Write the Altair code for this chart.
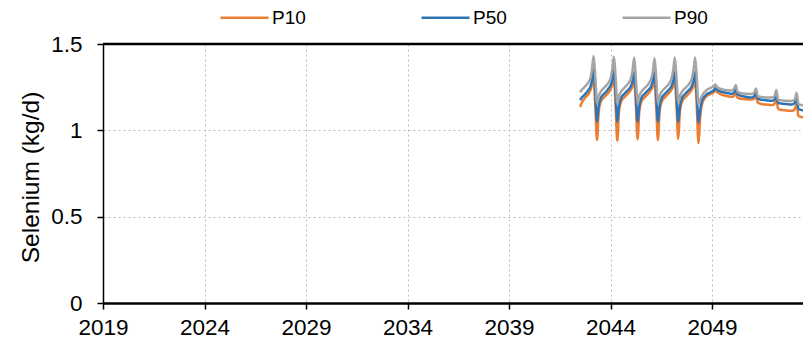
import altair as alt
import pandas as pd

# Monthly series starting July 2042 (fractional year 2042.5)
start_year = 2042.5

p90 = [
    1.22, 1.235, 1.245, 1.255, 1.265, 1.28, 1.30, 1.35,
    1.43,
    1.31, 1.16, 1.20, 1.22, 1.235, 1.245, 1.255, 1.265, 1.28, 1.30, 1.35, 1.426,
    1.31, 1.155, 1.20, 1.22, 1.235, 1.245, 1.255, 1.265, 1.28, 1.30, 1.345, 1.422,
    1.30, 1.155, 1.20, 1.22, 1.233, 1.243, 1.253, 1.263, 1.278, 1.298, 1.34, 1.417,
    1.30, 1.155, 1.20, 1.22, 1.233, 1.243, 1.253, 1.263, 1.278, 1.298, 1.345, 1.422,
    1.30, 1.155, 1.20, 1.22, 1.233, 1.243, 1.253, 1.263, 1.278, 1.298, 1.345, 1.422,
    1.30, 1.15,
    1.18, 1.20, 1.215, 1.225, 1.235, 1.24, 1.245, 1.25, 1.255, 1.265,
    1.25, 1.245, 1.24, 1.238, 1.235, 1.233, 1.232, 1.231, 1.23, 1.232, 1.24, 1.262,
    1.225, 1.218, 1.216, 1.214, 1.213, 1.212, 1.211, 1.21, 1.21, 1.212, 1.22, 1.243,
    1.20, 1.195, 1.193, 1.192, 1.191, 1.19, 1.19, 1.19, 1.19, 1.192, 1.20, 1.233,
    1.18, 1.175, 1.174, 1.173, 1.172, 1.171, 1.171, 1.17, 1.17, 1.172, 1.18, 1.218,
    1.155, 1.148, 1.146, 1.145, 1.144, 1.143, 1.142, 1.14,
]

p50 = [
    1.175, 1.19, 1.20, 1.21, 1.22, 1.235, 1.25, 1.29,
    1.35,
    1.21, 1.05, 1.14, 1.18, 1.20, 1.21, 1.22, 1.23, 1.245, 1.26, 1.29, 1.35,
    1.21, 1.05, 1.14, 1.18, 1.20, 1.21, 1.22, 1.23, 1.24, 1.255, 1.285, 1.34,
    1.205, 1.05, 1.14, 1.18, 1.20, 1.21, 1.22, 1.23, 1.24, 1.255, 1.285, 1.335,
    1.205, 1.05, 1.14, 1.18, 1.20, 1.21, 1.22, 1.23, 1.24, 1.255, 1.285, 1.34,
    1.205, 1.05, 1.14, 1.18, 1.20, 1.21, 1.22, 1.23, 1.24, 1.255, 1.285, 1.34,
    1.205, 1.045,
    1.12, 1.17, 1.19, 1.20, 1.21, 1.215, 1.22, 1.225, 1.23, 1.245,
    1.235, 1.228, 1.225, 1.222, 1.22, 1.218, 1.216, 1.214, 1.212, 1.212, 1.218, 1.243,
    1.21, 1.204, 1.20, 1.198, 1.196, 1.194, 1.192, 1.19, 1.19, 1.192, 1.198, 1.218,
    1.185, 1.18, 1.178, 1.176, 1.175, 1.174, 1.173, 1.172, 1.171, 1.172, 1.18, 1.204,
    1.16, 1.156, 1.155, 1.154, 1.153, 1.152, 1.151, 1.15, 1.15, 1.152, 1.16, 1.195,
    1.125, 1.12, 1.117, 1.115, 1.113, 1.111, 1.11, 1.108,
]

p10 = [
    1.135, 1.16, 1.175, 1.19, 1.20, 1.21, 1.23, 1.26,
    1.30,
    1.14, 0.944, 1.11, 1.16, 1.18, 1.19, 1.20, 1.21, 1.22, 1.24, 1.26, 1.30,
    1.14, 0.94, 1.11, 1.16, 1.18, 1.19, 1.20, 1.21, 1.22, 1.235, 1.255, 1.295,
    1.135, 0.948, 1.11, 1.16, 1.18, 1.19, 1.20, 1.21, 1.22, 1.235, 1.255, 1.29,
    1.135, 0.944, 1.11, 1.16, 1.18, 1.19, 1.20, 1.21, 1.22, 1.235, 1.255, 1.295,
    1.135, 0.95, 1.11, 1.16, 1.18, 1.19, 1.20, 1.21, 1.22, 1.235, 1.255, 1.295,
    1.13, 0.925,
    1.08, 1.15, 1.175, 1.19, 1.20, 1.205, 1.21, 1.215, 1.22, 1.232,
    1.222, 1.215, 1.21, 1.206, 1.203, 1.20, 1.198, 1.196, 1.195, 1.195, 1.20, 1.218,
    1.19, 1.185, 1.183, 1.182, 1.181, 1.18, 1.179, 1.178, 1.178, 1.18, 1.185, 1.195,
    1.162, 1.156, 1.153, 1.151, 1.15, 1.149, 1.148, 1.147, 1.146, 1.147, 1.155, 1.175,
    1.127, 1.12, 1.118, 1.117, 1.116, 1.115, 1.114, 1.113, 1.113, 1.115, 1.125, 1.156,
    1.085, 1.079, 1.077, 1.075, 1.074, 1.072, 1.071, 1.07,
]

series_names = ["P10", "P50", "P90"]
series_colors = ["#ED7D31", "#2E75B6", "#A5A5A5"]
x_ticks = [2019, 2024, 2029, 2034, 2039, 2044, 2049]
y_ticks = [0, 0.5, 1, 1.5]
y_title = "Selenium (kg/d)"

rows = []
for name, vals in zip(series_names, [p10, p50, p90]):
    for i, v in enumerate(vals):
        rows.append({"year": start_year + i / 12.0, "value": v, "series": name})
df = pd.DataFrame(rows)

FONT = "Liberation Sans"

lines = alt.Chart(df).mark_line(
    strokeWidth=2.5, clip=True, strokeJoin="round", interpolate="monotone"
).encode(
    x=alt.X(
        "year:Q",
        scale=alt.Scale(domain=[2019, 2053.48], nice=False, zero=False),
        axis=alt.Axis(
            values=x_ticks, format="d", title=None,
            labelFont=FONT, labelFontSize=22.5, labelColor="black",
            labelPadding=7, tickSize=6, tickColor="black", tickWidth=1.5,
            domainColor="black", domainWidth=2.5,
            grid=True, gridColor="#BBBBBB", gridDash=[2, 3], gridWidth=1,
            labelFlush=False, labelOverlap=False,
        ),
    ),
    y=alt.Y(
        "value:Q",
        scale=alt.Scale(domain=[0, 1.5], nice=False),
        axis=alt.Axis(
            values=y_ticks, labelExpr="datum.value", title=y_title,
            labelFont=FONT, labelFontSize=22.5, labelColor="black",
            labelPadding=15, tickSize=6, tickColor="black", tickWidth=1.5,
            domainColor="black", domainWidth=1.5,
            titleFont=FONT, titleFontSize=24.5, titleFontWeight="normal",
            titleColor="black", titlePadding=7, titleY=133,
            grid=True, gridColor="#BBBBBB", gridDash=[2, 3], gridWidth=1,
            labelFlush=False,
        ),
    ),
    color=alt.Color(
        "series:N",
        scale=alt.Scale(domain=series_names, range=series_colors),
        legend=alt.Legend(
            title=None, orient="none", legendX=116, legendY=-52,
            direction="horizontal", symbolType="stroke", symbolSize=2304,
            symbolStrokeWidth=2.5, labelFont=FONT, labelFontSize=19,
            labelColor="black", labelOffset=2, columnPadding=110, padding=0,
        ),
    ),
)

border = alt.Chart(pd.DataFrame({"a": [0]})).mark_rule(
    color="black", strokeWidth=2.5
).encode(y=alt.value(0))

chart = alt.layer(lines, border).properties(
    width=700,
    height=259,
    autosize=alt.AutoSizeParams(type="none"),
    padding={"left": 95, "top": 36, "right": 0, "bottom": 36},
    background="white",
).configure_view(stroke=None)

chart.save("out.html", embed_options={"renderer": "svg", "actions": False})
